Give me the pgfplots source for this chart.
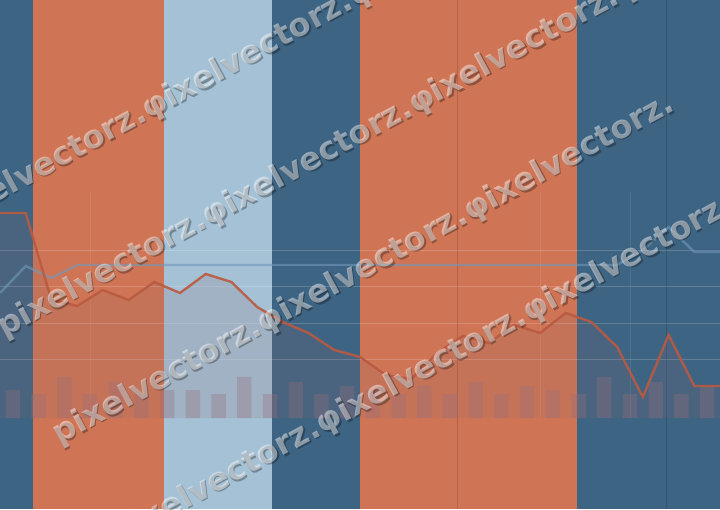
\documentclass[border=0pt]{standalone}
\usepackage{pgfplots}
\pgfplotsset{compat=1.18}
\usepackage{pgfplotstable}
\usepackage{fontspec}
\newfontfamily\wm{DejaVu Sans}

\definecolor{bandDark}{RGB}{62,100,131}
\definecolor{bandOrange}{RGB}{207,117,86}
\definecolor{bandLight}{RGB}{164,193,213}
\definecolor{lineRed}{RGB}{186,90,64}
\definecolor{lineBlue}{RGB}{112,152,186}
\definecolor{barCol}{RGB}{150,110,125}
\definecolor{areaCol}{RGB}{140,105,110}

% index, value (baseline of bars = 0)
\pgfplotstableread{
x  red  blue
0  205  125
1  205  152
2  118  140
3  112  153
4  128  153
5  118  153
6  136  153
7  125  153
8  144  153
9  136  153
10 111  153
11 96   153
12 85   153
13 68   153
14 61   153
15 43   153
16 39   153
17 65   153
18 82   153
19 75   153
20 93   153
21 85   153
22 105  153
23 96   153
24 71   153
25 21   168
26 83   191
27 32   166
28 32   166
}\lines

\pgfplotstableread{
x     h
0.5   28
1.5   24
2.5   41
3.5   24
4.5   36
5.5   24
6.5   28
7.5   28
8.5   24
9.5   41
10.5  24
11.5  36
12.5  24
13.5  32
14.5  28
15.5  24
16.5  32
17.5  24
18.5  36
19.5  24
20.5  32
21.5  28
22.5  24
23.5  41
24.5  24
25.5  36
26.5  24
27.5  32
}\bars

\newcommand{\wmrow}{pixelvectorz.φixelvectorz.φixelvectorz.}

\begin{document}
\begin{tikzpicture}
\begin{axis}[
    width=720pt, height=509pt,
    scale only axis,
    xmin=0, xmax=28,
    ymin=-91, ymax=418,
    hide axis,
  ]
  % background bands
  \fill[bandDark]   (axis cs:0,-91)     rectangle (axis cs:1.283,418);
  \fill[bandOrange] (axis cs:1.283,-91) rectangle (axis cs:6.38,418);
  \fill[bandLight]  (axis cs:6.38,-91)  rectangle (axis cs:10.58,418);
  \fill[bandDark]   (axis cs:10.58,-91) rectangle (axis cs:14,418);
  \fill[bandOrange] (axis cs:14,-91)    rectangle (axis cs:22.44,418);
  \fill[bandDark]   (axis cs:22.44,-91) rectangle (axis cs:28,418);

  % faint grid
  \draw[white, opacity=0.18, line width=1pt] (axis cs:0,58) -- (axis cs:28,58);
  \draw[white, opacity=0.18, line width=1pt] (axis cs:0,94.5) -- (axis cs:28,94.5);
  \draw[white, opacity=0.18, line width=1pt] (axis cs:0,131) -- (axis cs:28,131);
  \draw[white, opacity=0.18, line width=1pt] (axis cs:0,167.5) -- (axis cs:28,167.5);
  \draw[white, opacity=0.08, line width=1pt] (axis cs:3.5,0) -- (axis cs:3.5,226);
  \draw[white, opacity=0.08, line width=1pt] (axis cs:21,0) -- (axis cs:21,226);
  \draw[white, opacity=0.08, line width=1pt] (axis cs:24.5,0) -- (axis cs:24.5,226);
  \draw[black, opacity=0.15, line width=1pt] (axis cs:17.81,-91) -- (axis cs:17.81,418);
  \draw[black, opacity=0.15, line width=1pt] (axis cs:25.92,-91) -- (axis cs:25.92,418);

  % area under red line
  \addplot[draw=none, fill=areaCol, fill opacity=0.16] table[x=x, y=red] {\lines} \closedcycle;

  % bars
  \addplot[ybar, bar width=0.56, draw=none, fill=barCol, fill opacity=0.32] table[x=x, y=h] {\bars};

  % lines
  \addplot[lineBlue, line width=2.4pt, opacity=0.6, mark=none] table[x=x, y=blue] {\lines};
  \addplot[lineRed, line width=2.4pt, opacity=0.9, mark=none] table[x=x, y=red] {\lines};
\end{axis}
\useasboundingbox (0,0) rectangle (720pt,509pt);
\begin{scope}
  \clip (0,0) rectangle (720pt,509pt);
  \foreach \px/\py/\txt in {-60/286/\wmrow φixelvectorz., 0/179/\wmrow φixelvectorz., 55/72/\wmrow, 114/-29/\wmrow} {
    \node[anchor=west, rotate=28.5, inner sep=0pt, text=black, text opacity=0.3,
          font=\wm\bfseries\fontsize{32}{32}\selectfont]
      at (\px pt+1.5pt, \py pt-1.5pt) {\txt};
    \node[anchor=west, rotate=28.5, inner sep=0pt, text=white, text opacity=0.45,
          font=\wm\bfseries\fontsize{32}{32}\selectfont]
      at (\px pt, \py pt) {\txt};
  }
\end{scope}
\end{tikzpicture}
\end{document}
